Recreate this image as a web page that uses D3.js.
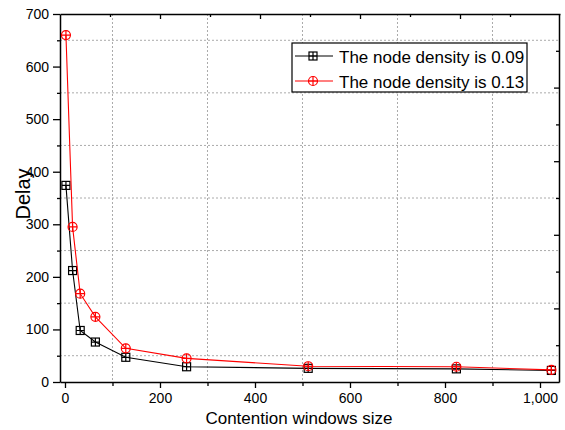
<!DOCTYPE html>
<html>
<head>
<meta charset="utf-8">
<script src="https://cdn.jsdelivr.net/npm/d3@7"></script>
<style>
  body { margin: 0; background: #fff; }
  svg text { font-family: "Liberation Sans", Arial, sans-serif; fill: #000; }
</style>
</head>
<body>
<svg id="chart" width="565" height="430"></svg>
<script>
// Chart data
const cwSize = [2, 16, 32, 64, 128, 256, 512, 824, 1024];
const delayDensity009 = [374, 212, 98, 76, 47, 29, 26, 25, 22];
const delayDensity013 = [660, 295, 168, 124, 64, 45, 30, 29, 23];
const seriesNames = ["The node density is 0.09", "The node density is 0.13"];

const xMajorTicks = [0, 200, 400, 600, 800, 1000];
const xMinorTicks = [100, 300, 500, 700, 900];
const yMajorTicks = [0, 100, 200, 300, 400, 500, 600, 700];
const yMinorTicks = [50, 150, 250, 350, 450, 550, 650];

const svg = d3.select("#chart");

// Plot area
const plotLeft = 60, plotRight = 559, plotTop = 14, plotBottom = 382;

const x = d3.scaleLinear().domain([-10.5, 1040]).range([plotLeft, plotRight]);
const y = d3.scaleLinear().domain([0, 700]).range([plotBottom, plotTop]);
// the mirrored top / right axes in the original are not aligned with the data scales
const xTop = d3.scaleLinear().domain([0, 1000]).range([plotLeft, 560]);
const yRight = d3.scaleLinear().domain([0, 1]).range([plotBottom, plotTop]);

// Grid lines (dashed, at the minor positions)
const grid = svg.append("g").attr("stroke", "#aaaaaa").attr("stroke-dasharray", "2,2").attr("stroke-width", 1);
grid.selectAll("line.v").data(xMinorTicks).join("line")
    .attr("class", "v")
    .attr("x1", d => x(d)).attr("x2", d => x(d))
    .attr("y1", plotTop).attr("y2", plotBottom);
grid.selectAll("line.h").data(yMinorTicks).join("line")
    .attr("class", "h")
    .attr("x1", plotLeft).attr("x2", plotRight)
    .attr("y1", d => y(d)).attr("y2", d => y(d));

function styleAxis(g, showText) {
    g.selectAll("path.domain").attr("stroke", "#000").attr("stroke-width", 1.5);
    g.selectAll(".tick line").attr("stroke", "#000").attr("stroke-width", 1.3);
    g.selectAll(".tick text").attr("font-size", 14).attr("font-family", "Liberation Sans, Arial, sans-serif")
        .style("display", showText ? null : "none");
}

// Bottom axis
svg.append("g").attr("transform", `translate(0,${plotBottom})`)
    .call(d3.axisBottom(x).tickValues(xMajorTicks).tickSize(6).tickPadding(5).tickSizeOuter(0))
    .call(g => styleAxis(g, true));
svg.append("g").attr("transform", `translate(0,${plotBottom})`)
    .call(d3.axisBottom(x).tickValues(xMinorTicks).tickSize(4).tickFormat(""))
    .call(g => { g.select("path.domain").remove(); styleAxis(g, false); });

// Left axis
svg.append("g").attr("transform", `translate(${plotLeft},0)`)
    .call(d3.axisLeft(y).tickValues(yMajorTicks).tickSize(7).tickPadding(4).tickSizeOuter(0))
    .call(g => styleAxis(g, true));
svg.append("g").attr("transform", `translate(${plotLeft},0)`)
    .call(d3.axisLeft(y).tickValues(yMinorTicks).tickSize(3).tickFormat(""))
    .call(g => { g.select("path.domain").remove(); styleAxis(g, false); });

// Top axis (ticks inward)
svg.append("g").attr("transform", `translate(0,${plotTop})`)
    .call(d3.axisBottom(xTop).tickValues([200, 400, 600, 800]).tickSize(5).tickFormat("").tickSizeOuter(0))
    .call(g => styleAxis(g, false));
svg.append("g").attr("transform", `translate(0,${plotTop})`)
    .call(d3.axisBottom(xTop).tickValues([100, 300, 500, 700, 900]).tickSize(3).tickFormat(""))
    .call(g => { g.select("path.domain").remove(); styleAxis(g, false); });

// Right axis (ticks inward)
svg.append("g").attr("transform", `translate(${plotRight},0)`)
    .call(d3.axisLeft(yRight).tickValues([0.2, 0.4, 0.6, 0.8]).tickSize(5).tickFormat("").tickSizeOuter(0))
    .call(g => styleAxis(g, false));
svg.append("g").attr("transform", `translate(${plotRight},0)`)
    .call(d3.axisLeft(yRight).tickValues([0.1, 0.3, 0.5, 0.7, 0.9]).tickSize(3).tickFormat(""))
    .call(g => { g.select("path.domain").remove(); styleAxis(g, false); });

// Axis titles
svg.append("text")
    .attr("x", 299).attr("y", 424)
    .attr("text-anchor", "middle")
    .attr("font-size", 17)
    .text("Contention windows size");
svg.append("text")
    .attr("transform", "translate(30,194) rotate(-90)")
    .attr("text-anchor", "middle")
    .attr("font-size", 20)
    .text("Delay");

// Marker helpers
function squarePlus(g, cx, cy, color) {
    const s = 4;
    g.append("rect").attr("x", cx - s).attr("y", cy - s).attr("width", 2 * s).attr("height", 2 * s)
        .attr("fill", "none").attr("stroke", color).attr("stroke-width", 1.2);
    g.append("path").attr("d", `M${cx - s},${cy}H${cx + s}M${cx},${cy - s}V${cy + s}`)
        .attr("stroke", color).attr("stroke-width", 1.2);
}
function circlePlus(g, cx, cy, color) {
    const r = 4.5;
    g.append("circle").attr("cx", cx).attr("cy", cy).attr("r", r)
        .attr("fill", "none").attr("stroke", color).attr("stroke-width", 1.2);
    g.append("path").attr("d", `M${cx - r},${cy}H${cx + r}M${cx},${cy - r}V${cy + r}`)
        .attr("stroke", color).attr("stroke-width", 1.2);
}

const line = d3.line().x(d => x(d[0])).y(d => y(d[1]));
const series = [
    { name: seriesNames[0], values: delayDensity009, color: "#000", marker: squarePlus },
    { name: seriesNames[1], values: delayDensity013, color: "#ff0000", marker: circlePlus }
];

series.forEach(s => {
    const pts = cwSize.map((c, i) => [c, s.values[i]]);
    svg.append("path").datum(pts)
        .attr("d", line)
        .attr("fill", "none")
        .attr("stroke", s.color)
        .attr("stroke-width", 1.1);
    const mg = svg.append("g");
    pts.forEach(p => s.marker(mg, x(p[0]), y(p[1]), s.color));
});

// Legend
const legend = svg.append("g");
legend.append("rect")
    .attr("x", 292).attr("y", 43).attr("width", 235).attr("height", 49)
    .attr("fill", "#fff").attr("stroke", "#000").attr("stroke-width", 1.2);
series.forEach((s, i) => {
    const ly = 56 + i * 25;
    legend.append("line")
        .attr("x1", 295).attr("x2", 333).attr("y1", ly).attr("y2", ly)
        .attr("stroke", s.color).attr("stroke-width", 1.1);
    s.marker(legend, 313, ly, s.color);
    legend.append("text")
        .attr("x", 339).attr("y", ly + 6.5)
        .attr("font-size", 17)
        .text(s.name);
});
</script>
</body>
</html>
